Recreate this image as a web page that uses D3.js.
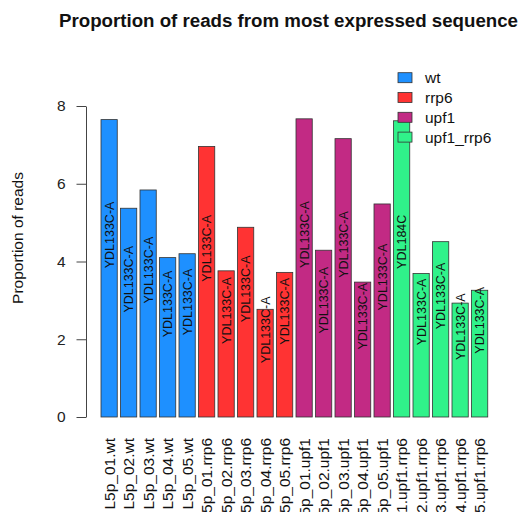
<html>
	<head>
		<meta content="text/html;charset=utf-8" http-equiv="Content-Type">
		<script src="https://d3js.org/d3.v7.min.js"></script>
		<style>
		body { margin: 0; background: #fff; }
		text { font-family: "Liberation Sans", Arial, sans-serif; }
		</style>
	</head>
	<body>
		<svg id="chart"></svg>
		<script>

	var samples = ["L5p_01.wt", "L5p_02.wt", "L5p_03.wt", "L5p_04.wt", "L5p_05.wt",
		"L5p_01.rrp6", "L5p_02.rrp6", "L5p_03.rrp6", "L5p_04.rrp6", "L5p_05.rrp6",
		"L5p_01.upf1", "L5p_02.upf1", "L5p_03.upf1", "L5p_04.upf1", "L5p_05.upf1",
		"L5p_01.upf1.rrp6", "L5p_02.upf1.rrp6", "L5p_03.upf1.rrp6", "L5p_04.upf1.rrp6", "L5p_05.upf1.rrp6"];
	var groups = ["wt", "wt", "wt", "wt", "wt",
		"rrp6", "rrp6", "rrp6", "rrp6", "rrp6",
		"upf1", "upf1", "upf1", "upf1", "upf1",
		"upf1_rrp6", "upf1_rrp6", "upf1_rrp6", "upf1_rrp6", "upf1_rrp6"];
	var values = [7.65, 5.37, 5.84, 4.10, 4.20,
		6.96, 3.76, 4.88, 2.77, 3.72,
		7.67, 4.29, 7.16, 3.47, 5.48,
		7.62, 3.69, 4.51, 2.93, 3.26];
	var topSeq = ["YDL133C-A", "YDL133C-A", "YDL133C-A", "YDL133C-A", "YDL133C-A",
		"YDL133C-A", "YDL133C-A", "YDL133C-A", "YDL133C-A", "YDL133C-A",
		"YDL133C-A", "YDL133C-A", "YDL133C-A", "YDL133C-A", "YDL133C-A",
		"YDL184C", "YDL133C-A", "YDL133C-A", "YDL133C-A", "YDL133C-A"];
	var groupNames = ["wt", "rrp6", "upf1", "upf1_rrp6"];
	var groupColors = ["#1e90ff", "#ff3333", "#c22a84", "#30f28a"];
	var yTicks = [0, 2, 4, 6, 8];

	draw();

	function draw(){
		var svg = d3.select("#chart").attr("width", 532).attr("height", 512);
		var color = d3.scaleOrdinal().domain(groupNames).range(groupColors);

		var x = d3.scaleBand()
			.domain(samples)
			.range([101, 487.75])
			.paddingInner(1 / 6)
			.paddingOuter(0);
		var y = d3.scaleLinear().domain([0, 8]).range([417, 106]);

		svg.append("text")
			.attr("x", 288.5)
			.attr("y", 26.5)
			.attr("text-anchor", "middle")
			.style("font-size", "18.7px")
			.style("font-weight", "bold")
			.style("fill", "#111")
			.text("Proportion of reads from most expressed sequence");

		// bars
		svg.selectAll("rect.bar")
			.data(values)
			.enter().append("rect")
			.attr("class", "bar")
			.attr("x", function(d, i){ return x(samples[i]); })
			.attr("y", function(d){ return y(d); })
			.attr("width", x.bandwidth())
			.attr("height", function(d){ return y(0) - y(d); })
			.style("fill", function(d, i){ return color(groups[i]); })
			.style("stroke", "#333")
			.style("stroke-width", 0.8);

		// sequence names inside bars
		svg.selectAll("text.seq")
			.data(values)
			.enter().append("text")
			.attr("class", "seq")
			.attr("transform", function(d, i){
				return "translate(" + (x(samples[i]) + x.bandwidth() / 2) + "," + y(d / 2) + ") rotate(-90)";
			})
			.attr("text-anchor", "start")
			.attr("dy", "0.35em")
			.style("font-size", "12.5px")
			.style("fill", "#111")
			.text(function(d, i){ return topSeq[i]; });

		// y axis
		var yAxis = d3.axisLeft(y).tickValues(yTicks).tickSize(9.5).tickSizeOuter(0).tickPadding(11);
		var gy = svg.append("g").attr("transform", "translate(86,0)").call(yAxis);
		gy.select(".domain").attr("stroke", "#444");
		gy.selectAll(".tick line").attr("stroke", "#444");
		gy.selectAll(".tick text").style("font-size", "15.5px").style("fill", "#222")
			.style("font-family", "'Liberation Sans', Arial, sans-serif");

		svg.append("text")
			.attr("transform", "translate(23,238) rotate(-90)")
			.attr("text-anchor", "middle")
			.style("font-size", "15.5px")
			.style("fill", "#111")
			.text("Proportion of reads");

		// x labels
		var xAxis = d3.axisBottom(x).tickSize(0).tickPadding(0);
		var gx = svg.append("g").attr("transform", "translate(0,438)").call(xAxis);
		gx.select(".domain").remove();
		gx.selectAll(".tick text")
			.attr("transform", "rotate(-90)")
			.attr("x", 0)
			.attr("y", 0)
			.attr("dy", "0.35em")
			.attr("text-anchor", "end")
			.style("font-size", "15.5px")
			.style("fill", "#111")
			.style("font-family", "'Liberation Sans', Arial, sans-serif");

		// legend
		var leg = svg.append("g").selectAll("g")
			.data(groupNames)
			.enter().append("g")
			.attr("transform", function(d, i){ return "translate(398," + (77.7 + i * 19.8) + ")"; });
		leg.append("rect")
			.attr("x", 0)
			.attr("y", -5)
			.attr("width", 14)
			.attr("height", 10)
			.style("fill", function(d){ return color(d); })
			.style("stroke", "#333")
			.style("stroke-width", 0.8);
		leg.append("text")
			.attr("x", 27)
			.attr("y", 0)
			.attr("dy", "0.35em")
			.style("font-size", "15.5px")
			.style("fill", "#111")
			.text(function(d){ return d; });
	}

		</script>
	</body>
</html>
